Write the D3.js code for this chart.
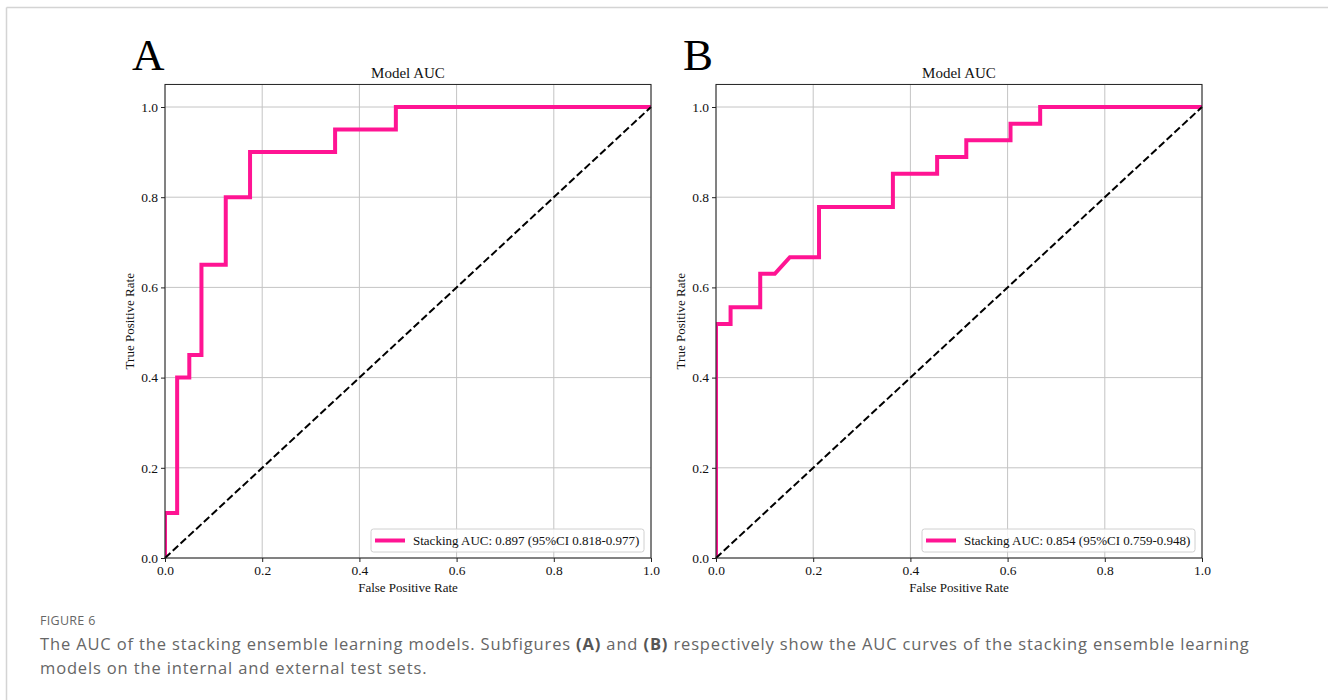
<!DOCTYPE html>
<html>
<head>
<meta charset="utf-8">
<script src="https://cdn.jsdelivr.net/npm/d3@7"></script>
<style>
  body { margin: 0; background: #fff; }
  svg { display: block; }
</style>
</head>
<body>
<div id="my_dataviz"></div>
<script>
// ROC points
const fprA = [0, 0, 0.025, 0.025, 0.05, 0.05, 0.075, 0.075, 0.125, 0.125, 0.175, 0.175, 0.35, 0.35, 0.475, 0.475, 1.0];
const tprA = [0, 0.1, 0.1, 0.4, 0.4, 0.45, 0.45, 0.65, 0.65, 0.8, 0.8, 0.9, 0.9, 0.95, 0.95, 1.0, 1.0];

const fprB = [0, 0, 0.030, 0.030, 0.091, 0.091, 0.121, 0.152, 0.212, 0.212, 0.364, 0.364, 0.455, 0.455, 0.515, 0.515, 0.606, 0.606, 0.667, 0.667, 1.0];
const tprB = [0, 0.519, 0.519, 0.556, 0.556, 0.630, 0.630, 0.667, 0.667, 0.778, 0.778, 0.852, 0.852, 0.889, 0.889, 0.926, 0.926, 0.963, 0.963, 1.0, 1.0];

const panelLetters = ["A", "B"];
const legendLabels = ["Stacking AUC: 0.897 (95%CI 0.818-0.977)", "Stacking AUC: 0.854 (95%CI 0.759-0.948)"];
const tickValues = [0, 0.2, 0.4, 0.6, 0.8, 1.0];
const chanceLine = [0, 1];

const W = 1328, H = 700;
const serif = "'Liberation Serif', 'Times New Roman', Times, serif";

const svg = d3.select("#my_dataviz")
  .append("svg")
    .attr("width", W)
    .attr("height", H);

// page frame (top and left rule)
svg.append("line").attr("x1", 6.5).attr("x2", W).attr("y1", 7.5).attr("y2", 7.5)
  .attr("stroke", "#d4d4d4").attr("stroke-width", 1.5);
svg.append("line").attr("x1", 6.5).attr("x2", 6.5).attr("y1", 7.5).attr("y2", H)
  .attr("stroke", "#d4d4d4").attr("stroke-width", 1.5);

const panels = [
  {left: 165, fpr: fprA, tpr: tprA},
  {left: 716, fpr: fprB, tpr: tprB}
];
const plotW = 486;

const y = d3.scaleLinear().domain([0, 1.05]).range([558, 558 - 451 * 1.05]);
const plotTop = y(1.05);

panels.forEach(function(p, i) {
  const x = d3.scaleLinear().domain([0, 1]).range([0, plotW]);
  const g = svg.append("g").attr("transform", `translate(${p.left},0)`);

  g.append("clipPath").attr("id", "clip" + i)
    .append("rect").attr("x", 0).attr("y", plotTop).attr("width", plotW).attr("height", y(0) - plotTop);

  // grid
  g.append("g").selectAll("line")
    .data(tickValues)
    .join("line")
      .attr("x1", d => x(d)).attr("x2", d => x(d))
      .attr("y1", plotTop).attr("y2", y(0))
      .attr("stroke", "#c4c4c4").attr("stroke-width", 1);
  g.append("g").selectAll("line")
    .data(tickValues)
    .join("line")
      .attr("x1", 0).attr("x2", plotW)
      .attr("y1", d => y(d)).attr("y2", d => y(d))
      .attr("stroke", "#c4c4c4").attr("stroke-width", 1);

  const data = p.fpr.map((f, k) => ({fpr: f, tpr: p.tpr[k]}));

  g.append("path")
    .datum(data)
    .attr("clip-path", `url(#clip${i})`)
    .attr("d", d3.line().x(d => x(d.fpr)).y(d => y(d.tpr)))
    .attr("fill", "none")
    .attr("stroke", "#ff1493")
    .attr("stroke-width", 4)
    .attr("stroke-linejoin", "miter");

  g.append("path")
    .datum(chanceLine)
    .attr("d", d3.line().x(d => x(d)).y(d => y(d)))
    .attr("fill", "none")
    .attr("stroke", "#000")
    .attr("stroke-width", 2)
    .attr("stroke-dasharray", "7.4,3.2");

  // frame
  g.append("rect")
    .attr("x", 0).attr("y", plotTop).attr("width", plotW).attr("height", y(0) - plotTop)
    .attr("fill", "none").attr("stroke", "#222").attr("stroke-width", 1);

  const fmt = d3.format(".1f");
  const xAxis = g.append("g")
    .attr("transform", `translate(0,${y(0)})`)
    .call(d3.axisBottom(x).tickValues(tickValues).tickFormat(fmt).tickSize(4).tickPadding(3));
  const yAxis = g.append("g")
    .call(d3.axisLeft(y).tickValues(tickValues).tickFormat(fmt).tickSize(4).tickPadding(3));
  [xAxis, yAxis].forEach(a => {
    a.select(".domain").remove();
    a.selectAll("line").attr("stroke", "#222");
    a.selectAll("text").style("font-family", serif).style("font-size", "13.5px").attr("fill", "#111");
  });

  g.append("text")
    .attr("x", plotW / 2).attr("y", 78)
    .attr("text-anchor", "middle")
    .style("font-family", serif).style("font-size", "15px").attr("fill", "#111")
    .text("Model AUC");

  g.append("text")
    .attr("x", plotW / 2).attr("y", 592)
    .attr("text-anchor", "middle")
    .style("font-family", serif).style("font-size", "13px").attr("fill", "#111")
    .text("False Positive Rate");

  g.append("text")
    .attr("transform", `translate(-31,${(plotTop + y(0)) / 2}) rotate(-90)`)
    .attr("text-anchor", "middle")
    .style("font-family", serif).style("font-size", "13px").attr("fill", "#111")
    .text("True Positive Rate");

  g.append("text")
    .attr("x", -33).attr("y", 70)
    .style("font-family", serif).style("font-size", "45px").attr("fill", "#000")
    .text(panelLetters[i]);

  // legend
  const lw = 273, lh = 23;
  const lx = plotW - 7 - lw, ly = y(0) - 6 - lh;
  const lg = g.append("g").attr("transform", `translate(${lx},${ly})`);
  lg.append("rect")
    .attr("width", lw).attr("height", lh).attr("rx", 2.5)
    .attr("fill", "#fff").attr("fill-opacity", 0.8)
    .attr("stroke", "#d0d0d0").attr("stroke-width", 1);
  lg.append("line")
    .attr("x1", 4).attr("x2", 34).attr("y1", lh / 2).attr("y2", lh / 2)
    .attr("stroke", "#ff1493").attr("stroke-width", 4);
  lg.append("text")
    .attr("x", 42).attr("y", lh / 2 + 4.5)
    .style("font-family", serif).style("font-size", "13px").attr("fill", "#111")
    .text(legendLabels[i]);
});

// caption
const sans = "'Open Sans', 'Noto Sans', sans-serif";
svg.append("text")
  .attr("x", 40).attr("y", 625)
  .style("font-family", sans).style("font-size", "12.5px").style("letter-spacing", "0.3px")
  .attr("fill", "#666")
  .text("FIGURE 6");

const cap1 = svg.append("text")
  .attr("x", 40).attr("y", 650)
  .style("font-family", sans).style("font-size", "16.5px").style("letter-spacing", "0.85px")
  .attr("fill", "#666");
cap1.append("tspan").text("The AUC of the stacking ensemble learning models. Subfigures ");
cap1.append("tspan").style("font-weight", "bold").attr("fill", "#555").text("(A)");
cap1.append("tspan").text(" and ");
cap1.append("tspan").style("font-weight", "bold").attr("fill", "#555").text("(B)");
cap1.append("tspan").text(" respectively show the AUC curves of the stacking ensemble learning");

svg.append("text")
  .attr("x", 40).attr("y", 674)
  .style("font-family", sans).style("font-size", "16.5px").style("letter-spacing", "0.85px")
  .attr("fill", "#666")
  .text("models on the internal and external test sets.");
</script>
</body>
</html>
